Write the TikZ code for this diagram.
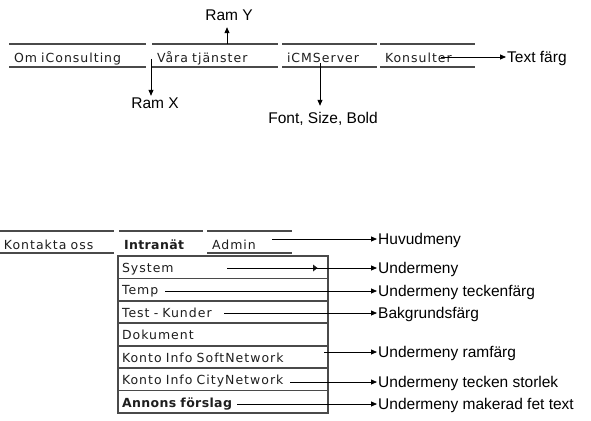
\documentclass[tikz,border=0pt]{standalone}
\usepackage{fontspec}
\usepackage{tikz}
\usetikzlibrary{positioning,arrows.meta}
\setmainfont{Liberation Sans}
\newfontfamily\menyfont[LetterSpace=8,BoldFeatures={LetterSpace=3}]{DejaVu Sans}
\definecolor{ramgra}{HTML}{4A4A4A}
\definecolor{menytext}{HTML}{1E1E1E}
\tikzset{flik/.style={
    anchor=north west,
    inner xsep=5pt,
    inner ysep=0pt,
    outer sep=0pt,
    align=left,
    text width=#1,
    text height=15pt,
    text depth=0pt,
    text=menytext,
    font=\menyfont\fontsize{12.5}{14}\selectfont}}
\tikzset{flikkant/.style={
    draw=ramgra,
    line width=2pt}}
\tikzset{rad/.style={
    draw=ramgra,
    fill=white,
    line width=1.6pt,
    anchor=north west,
    outer sep=0pt,
    inner xsep=4pt,
    inner ysep=0pt,
    minimum height=22.43pt,
    text width=202pt,
    text height=10.5pt,
    text depth=0pt,
    align=left,
    text=menytext,
    font=\menyfont\fontsize{12.5}{14}\selectfont}}
\tikzset{etikett/.style={
    anchor=west,
    inner sep=1pt,
    text height=11pt,
    text depth=0pt,
    font=\fontsize{15.5}{18}\selectfont}}
\tikzset{pil/.style={
    draw=black,
    line width=0.8pt,
    -{Triangle[length=6pt,width=5pt]}}}

\begin{document}
\begin{tikzpicture}[x=1pt,y=-1pt]
\useasboundingbox (0,0) rectangle (591,420);

% huvudmeny overst
\node[flik=127pt, minimum height=23pt] (om) at (9,44) {Om iConsulting};
\node[flik=116pt, minimum height=23pt] (vara) at (152,44) {Våra tjänster};
\node[flik=85pt, minimum height=23pt] (icm) at (282,44) {iCMServer};
\node[flik=85pt, minimum height=23pt] (kons) at (380,44) {Konsulter};
\foreach \f in {om,vara,icm,kons}
  \draw[flikkant] (\f.north west) -- (\f.north east) (\f.south west) -- (\f.south east);

\coordinate (ramyfot) at (227,44);
\coordinate (ramxfot) at (151,59);
\coordinate (fontfot) at (320,63);
\coordinate (fargfot) at (441,57);

\node[etikett, anchor=base] (ramy) at (229,21) {Ram Y};
\node[etikett, anchor=base] (ramx) at (155,108) {Ram X};
\node[etikett, anchor=base] (font) at (323,123) {Font, Size, Bold};
\node[etikett] (farg) at (506,57) {Text färg};

\draw[pil, shorten >=5pt] (ramyfot) -- (ramyfot |- ramy.south);
\draw[pil] (ramxfot) -- (ramxfot |- ramx.north);
\draw[pil, shorten >=5pt] (fontfot) -- (fontfot |- font.north);
\draw[pil] (fargfot) -- (farg);

% meny med undermeny
\node[flik=106pt, minimum height=22pt, inner xsep=4pt] (kontakt) at (0,231) {Kontakta oss};
\node[flik=74pt, minimum height=22pt, font=\menyfont\bfseries\fontsize{12.5}{14}\selectfont] (intra) at (119,231) {Intranät};
\node[flik=75pt, minimum height=22pt] (admin) at (207,231) {Admin};
\foreach \f in {kontakt,intra,admin}
  \draw[flikkant] (\f.north west) -- (\f.north east);
\draw[flikkant] (kontakt.south west) -- (kontakt.south east);
\draw[flikkant] (admin.south west) -- (admin.south east);

\node[rad] (sys) at (118,256) {System};
\node[rad, below=0pt of sys] (temp) {Temp};
\node[rad, below=0pt of temp] (test) {Test - Kunder};
\node[rad, below=0pt of test] (dok) {Dokument};
\node[rad, below=0pt of dok] (soft) {Konto Info SoftNetwork};
\node[rad, below=0pt of soft] (city) {Konto Info CityNetwork};
\node[rad, below=0pt of city, font=\menyfont\bfseries\fontsize{12.5}{14}\selectfont] (annons) {Annons förslag};
\fill[menytext] (313,264.5) -- (317.5,268) -- (313,271.5) -- cycle;

\coordinate (huvudfot) at (272,239);
\coordinate (underfot) at (227,268);
\coordinate (teckenfot) at (165,291);
\coordinate (bakfot) at (224,313);
\coordinate (ramfot) at (324,352);
\coordinate (storfot) at (290,382);
\coordinate (fetfot) at (237,404);

\node[etikett] (huvud) at (377,239) {Huvudmeny};
\node[etikett] (under) at (377,268) {Undermeny};
\node[etikett] (tecken) at (377,291) {Undermeny teckenfärg};
\node[etikett] (bak) at (377,313) {Bakgrundsfärg};
\node[etikett] (ram) at (377,352) {Undermeny ramfärg};
\node[etikett] (stor) at (377,382) {Undermeny tecken storlek};
\node[etikett] (fet) at (377,404) {Undermeny makerad fet text};

\draw[pil] (huvudfot) -- (huvud);
\draw[pil] (underfot) -- (under);
\draw[pil] (teckenfot) -- (tecken);
\draw[pil] (bakfot) -- (bak);
\draw[pil] (ramfot) -- (ram);
\draw[pil] (storfot) -- (stor);
\draw[pil] (fetfot) -- (fet);
\end{tikzpicture}
\end{document}
